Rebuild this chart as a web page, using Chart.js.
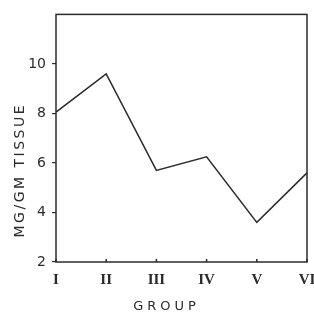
<!DOCTYPE html>
<html>
<head>
<meta charset="utf-8">
<script src="https://cdn.jsdelivr.net/npm/chart.js@4"></script>
<style>
  html, body { margin: 0; padding: 0; background: #ffffff; }
  #c { display: block; }
</style>
</head>
<body>
<canvas id="c" width="314" height="317"></canvas>
<script>
// ---- data ----
const groups = ['I', 'II', 'III', 'IV', 'V', 'VI'];
const mgPerGmTissue = [8.05, 9.6, 5.7, 6.25, 3.6, 5.6];
const yTickValues = [2, 4, 6, 8, 10];
const yMin = 2;
const yMax = 12;
const xTitle = 'GROUP';
const yTitle = 'MG/GM TISSUE';

const INK = '#2b2b2b';

function patchTitle(scale, spacing, dx, dy) {
  if (scale._titlePatched) return;
  scale._titlePatched = true;
  const orig = scale.drawTitle;
  scale.drawTitle = function () {
    const ctx = this.ctx;
    ctx.save();
    ctx.translate(dx, dy);
    ctx.letterSpacing = spacing;
    orig.call(this);
    ctx.restore();
  };
}

const framePlugin = {
  id: 'frame',
  afterDatasetsDraw(chart) {
    const { ctx, chartArea: a, scales } = chart;
    ctx.save();
    ctx.strokeStyle = INK;
    ctx.lineWidth = 1.5;
    ctx.strokeRect(a.left, a.top, a.right - a.left, a.bottom - a.top);
    // small inward tick marks along the bottom axis
    const xs = scales.x;
    ctx.beginPath();
    xs.ticks.forEach((t, i) => {
      const px = xs.getPixelForTick(i);
      ctx.moveTo(px, a.bottom);
      ctx.lineTo(px, a.bottom - 3);
    });
    ctx.stroke();
    ctx.restore();
  }
};

new Chart(document.getElementById('c'), {
  type: 'line',
  data: {
    labels: groups,
    datasets: [{
      data: mgPerGmTissue,
      borderColor: INK,
      borderWidth: 1.5,
      pointRadius: 0,
      tension: 0,
      fill: false
    }]
  },
  options: {
    responsive: false,
    animation: false,
    devicePixelRatio: 1,
    layout: { padding: { top: 8, right: 7, left: 0, bottom: 0 } },
    plugins: { legend: { display: false }, tooltip: { enabled: false } },
    scales: {
      x: {
        offset: false,
        grid: { display: false, drawTicks: false },
        border: { display: false },
        ticks: {
          color: INK,
          padding: 9,
          maxRotation: 0,
          autoSkip: false,
          font: { family: '"Liberation Serif", serif', size: 15, weight: 'bold' }
        },
        title: {
          display: true,
          text: xTitle,
          color: INK,
          padding: { top: 0, bottom: 3 },
          font: { family: '"DejaVu Sans", sans-serif', size: 13 }
        },
        afterFit(scale) {
          scale.height = 55;
          scale.paddingLeft = 0;
          scale.paddingRight = 0;
          patchTitle(scale, '4px', -15, 0);
        }
      },
      y: {
        min: yMin,
        max: yMax,
        afterBuildTicks(scale) {
          scale.ticks = yTickValues.map(v => ({ value: v }));
        },
        grid: { drawOnChartArea: false, drawTicks: true, tickLength: 4, color: INK, lineWidth: 1.2 },
        border: { display: false },
        ticks: {
          color: INK,
          padding: 6,
          font: { family: '"DejaVu Sans", sans-serif', size: 14 }
        },
        title: {
          display: true,
          text: yTitle,
          color: INK,
          padding: { top: 12, bottom: 0 },
          font: { family: '"DejaVu Sans", sans-serif', size: 14 }
        },
        afterFit(scale) {
          scale.width = 56;
          patchTitle(scale, '2.5px', 0, 32);
        }
      }
    }
  },
  plugins: [framePlugin]
});
</script>
</body>
</html>
